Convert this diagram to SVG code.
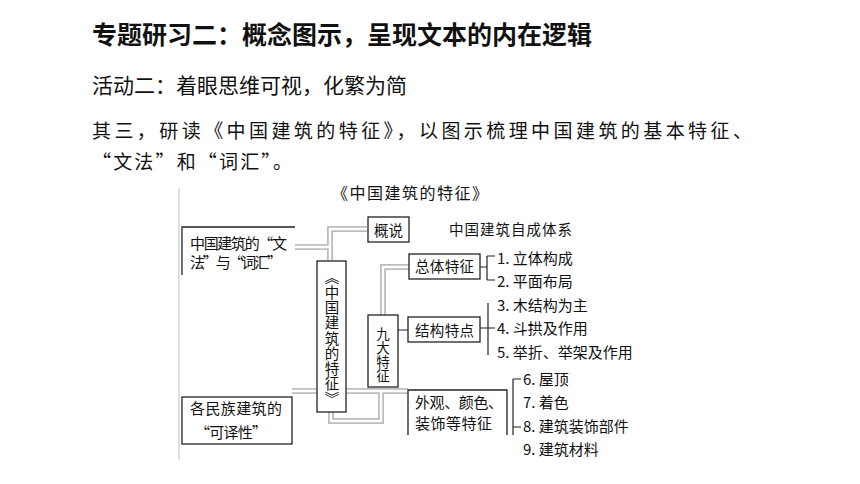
<svg xmlns="http://www.w3.org/2000/svg" width="860" height="484" viewBox="0 0 860 484">
<style>
text{font-family:"Noto Sans CJK SC","Noto Sans",sans-serif;fill:#111}
.h1{font-size:25px;font-weight:700}
.h2{font-size:21px}
.p{font-size:19px}
.d{font-size:15px}
.s{font-size:14.5px}
.box{fill:#fff;stroke:#222;stroke-width:1.3}
.open{fill:none;stroke:#222;stroke-width:1.3}
.po{fill:none;stroke:#bdbdbd;stroke-width:6}
.pi{fill:none;stroke:#fff;stroke-width:2.4}
.ln{fill:none;stroke:#222;stroke-width:1.2}
.vt{writing-mode:vertical-rl;text-orientation:upright}
</style>
<rect width="860" height="484" fill="#fff"/>
<text class="h1" x="92" y="44">专题研习二：概念图示，呈现文本的内在逻辑</text>
<text class="h2" x="92" y="93">活动二：着眼思维可视，化繁为简</text>
<text class="p" x="92" y="138" textLength="660" lengthAdjust="spacing">其三，研读《中国建筑的特征》，以图示梳理中国建筑的基本特征、</text>
<text class="p" x="92" y="169" textLength="200" lengthAdjust="spacing">“文法”和“词汇”。</text>
<line x1="179" y1="188" x2="179" y2="460" stroke="#d4d4d4" stroke-width="1.5"/>
<text x="332" y="199" style="font-size:16px" textLength="156" lengthAdjust="spacing">《中国建筑的特征》</text>
<text class="s" x="449" y="235" textLength="123" lengthAdjust="spacing">中国建筑自成体系</text>
<g id="connectors">
<path class="po" d="M367 229H330V261M295 247H330M383 315V267H409M292 391H317M346 391H408M331 412V421H381V391"/>
<path class="pi" d="M367 229H330V261M295 247H330M383 315V267H409M292 391H317M346 391H408M331 412V421H381V391"/>
<path class="ln" d="M480 267H487M487 256V280M487 256H495M487 280H495"/>
<path class="ln" d="M480 328H495M488 303V355M398 330H408"/>
<path class="ln" d="M513 379V435M513 379H521M513 427H521"/>
</g>
<g id="n-wenfa">
<path class="open" d="M182 275V227H295" stroke-width="1.6"/>
<text class="d" x="190" y="249" textLength="97" lengthAdjust="spacing">中国建筑的“文</text>
<text class="d" x="190" y="268" textLength="92" lengthAdjust="spacing">法”与“词汇”</text>
</g>
<g id="n-minzu">
<rect class="box" x="182" y="397" width="110" height="47"/>
<text class="d" x="190" y="414" textLength="92" lengthAdjust="spacing">各民族建筑的</text>
<text class="d" x="195" y="438" textLength="72" lengthAdjust="spacing">“可译性”</text>
</g>
<g id="n-main">
<rect class="box" x="317" y="261" width="29" height="151"/>
<text class="vt" x="332" y="270" style="font-size:14.5px" textLength="136" lengthAdjust="spacing">《中国建筑的特征》</text>
</g>
<g id="n-gaishuo">
<rect class="box" x="368" y="217" width="41" height="25"/>
<text class="s" x="388.5" y="235.5" text-anchor="middle">概说</text>
</g>
<g id="n-jiuda">
<rect class="box" x="368" y="315" width="30" height="72"/>
<text class="vt" x="383" y="327" style="font-size:13.5px" textLength="56" lengthAdjust="spacing">九大特征</text>
</g>
<g id="n-zongti">
<rect class="box" x="409" y="254" width="71" height="25" stroke="#555"/>
<text class="s" x="415" y="272" textLength="59" lengthAdjust="spacing">总体特征</text>
</g>
<g id="n-jiegou">
<rect class="box" x="408" y="317" width="72" height="25"/>
<text class="s" x="415" y="335.5" textLength="59" lengthAdjust="spacing">结构特点</text>
</g>
<g id="n-waiguan">
<path class="open" d="M408 435V390H507V435"/>
<text class="d" x="415" y="408" textLength="88" lengthAdjust="spacing">外观、颜色、</text>
<text class="d" x="415" y="429" textLength="77" lengthAdjust="spacing">装饰等特征</text>
</g>
<g id="items">
<text class="d" x="497" y="264">1. 立体构成</text>
<text class="d" x="497" y="287">2. 平面布局</text>
<text class="d" x="497" y="311">3. 木结构为主</text>
<text class="d" x="497" y="334">4. 斗拱及作用</text>
<text class="d" x="497" y="358">5. 举折、举架及作用</text>
<text class="d" x="523" y="385">6. 屋顶</text>
<text class="d" x="523" y="408">7. 着色</text>
<text class="d" x="523" y="432">8. 建筑装饰部件</text>
<text class="d" x="523" y="455">9. 建筑材料</text>
</g>
</svg>
